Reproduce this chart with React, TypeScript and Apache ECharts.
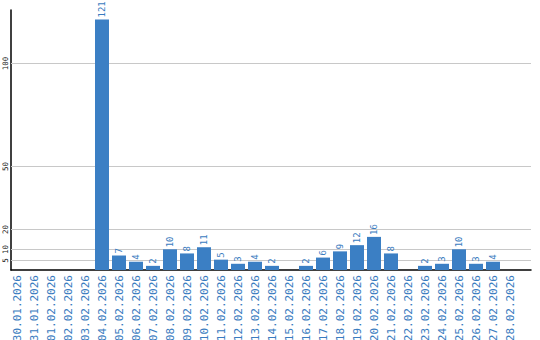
import React, { useEffect, useRef } from "react";
import * as echarts from "echarts";

const categories = [
  "30.01.2026", "31.01.2026", "01.02.2026", "02.02.2026", "03.02.2026",
  "04.02.2026", "05.02.2026", "06.02.2026", "07.02.2026", "08.02.2026",
  "09.02.2026", "10.02.2026", "11.02.2026", "12.02.2026", "13.02.2026",
  "14.02.2026", "15.02.2026", "16.02.2026", "17.02.2026", "18.02.2026",
  "19.02.2026", "20.02.2026", "21.02.2026", "22.02.2026", "23.02.2026",
  "24.02.2026", "25.02.2026", "26.02.2026", "27.02.2026", "28.02.2026",
];
const values = [
  0, 0, 0, 0, 0, 121, 7, 4, 2, 10, 8, 11, 5, 3, 4, 2, 0, 2, 6, 9, 12, 16, 8,
  0, 2, 3, 10, 3, 4, 0,
];
const yTickValues = [5, 10, 20, 50, 100];
const yMax = 125.6;

const BLUE = "#3b7fc4";
const LABEL_BLUE = "#3a7cc0";
const MONO = "DejaVu Sans Mono";

export default function App() {
  const ref = useRef<HTMLDivElement>(null);
  useEffect(() => {
    if (!ref.current) return;
    const chart = echarts.init(ref.current, null, { renderer: "svg" });
    chart.setOption({
      animation: false,
      grid: [
        { left: 8.5, top: 10, width: 510, bottom: 70, containLabel: false, outerBoundsMode: "none" },
        { left: 11, right: 9, top: 10, bottom: 70, containLabel: false, outerBoundsMode: "none" },
      ],
      xAxis: [
        {
          type: "category",
          gridIndex: 0,
          data: categories,
          axisLine: { show: false },
          axisTick: { show: false },
          axisLabel: {
            interval: 0,
            rotate: 90,
            margin: 5,
            color: LABEL_BLUE,
            fontFamily: MONO,
            fontSize: 11,
          },
        },
        {
          type: "value",
          gridIndex: 1,
          min: 0,
          max: 1,
          axisLine: { show: true, onZero: false, lineStyle: { color: "#000", width: 1.5 } },
          axisTick: { show: false },
          axisLabel: { show: false },
          splitLine: { show: false },
        },
      ],
      yAxis: [
        {
          type: "value",
          gridIndex: 0,
          min: 0,
          max: yMax,
          show: false,
          splitLine: { show: false },
        },
        {
          type: "value",
          gridIndex: 1,
          min: 0,
          max: yMax,
          axisLine: { show: true, lineStyle: { color: "#000", width: 1.5 } },
          axisTick: { show: false },
          axisLabel: { show: false },
          splitLine: { show: false },
        },
      ],
      series: [
        {
          type: "custom",
          xAxisIndex: 1,
          yAxisIndex: 1,
          silent: true,
          clip: false,
          z: 1,
          data: yTickValues.map((v) => [0, v]),
          renderItem: (params: any, api: any) => {
            const cs = params.coordSys;
            const v = api.value(1);
            const y = Math.round(api.coord([0, v])[1]) + 0.5;
            return {
              type: "group",
              children: [
                {
                  type: "line",
                  shape: { x1: cs.x, y1: y, x2: cs.x + cs.width, y2: y },
                  style: { stroke: "#c8c8c8", lineWidth: 1 },
                },
                {
                  type: "text",
                  x: cs.x - 6,
                  y: y,
                  rotation: Math.PI / 2,
                  style: {
                    text: String(v),
                    fill: "#222",
                    fontSize: 7.5,
                    fontFamily: MONO,
                    align: "center",
                    verticalAlign: "middle",
                  },
                },
              ],
            };
          },
        },
        {
          type: "bar",
          xAxisIndex: 0,
          yAxisIndex: 0,
          z: 3,
          barWidth: 14,
          data: values,
          itemStyle: { color: BLUE },
          label: {
            show: true,
            position: "top",
            rotate: 90,
            align: "left",
            verticalAlign: "middle",
            distance: 2,
            color: LABEL_BLUE,
            fontFamily: MONO,
            fontSize: 9,
            formatter: (p: any) => (p.value ? String(p.value) : ""),
          },
        },
      ],
    });
    return () => chart.dispose();
  }, []);
  return (
    <div
      ref={ref}
      style={{ position: "absolute", left: 0, top: 0, width: 540, height: 340 }}
    />
  );
}
